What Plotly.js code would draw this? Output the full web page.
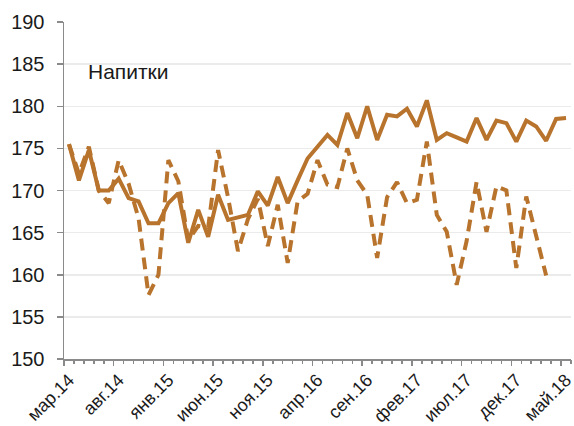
<!DOCTYPE html>
<html><head><meta charset="utf-8">
<script src="https://cdn.plot.ly/plotly-3.0.1.min.js"></script>
<style>html,body{margin:0;padding:0;background:#fff}#chart{width:574px;height:426px}</style>
</head><body><div id="chart"></div>
<script>
const months = ["мар.14","апр.14","май.14","июн.14","июл.14","авг.14","сен.14","окт.14","ноя.14","дек.14",
"янв.15","фев.15","мар.15","апр.15","май.15","июн.15","июл.15","авг.15","сен.15","окт.15","ноя.15","дек.15",
"янв.16","фев.16","мар.16","апр.16","май.16","июн.16","июл.16","авг.16","сен.16","окт.16","ноя.16","дек.16",
"янв.17","фев.17","мар.17","апр.17","май.17","июн.17","июл.17","авг.17","сен.17","окт.17","ноя.17","дек.17",
"янв.18","фев.18","мар.18","апр.18","май.18"];
const tickLabels = ["мар.14","авг.14","янв.15","июн.15","ноя.15","апр.16","сен.16","фев.17","июл.17","дек.17","май.18"];
const solidValues = [175.5,171.2,174.8,170.0,170.0,171.4,169.1,168.7,166.1,166.1,
168.5,169.7,163.8,167.7,164.5,169.5,166.5,166.8,167.1,169.9,168.2,171.6,
168.5,171.2,173.8,175.2,176.6,175.4,179.2,176.2,180.0,176.0,179.0,178.8,
179.7,177.6,180.7,176.0,176.8,176.3,175.8,178.6,176.0,178.3,178.0,175.8,
178.3,177.6,175.9,178.5,178.6];
const dashedValues = [175.5,172.0,175.2,170.0,168.5,173.6,170.8,166.7,157.6,160.0,
173.6,171.1,164.1,165.8,165.6,174.8,169.2,162.8,166.6,169.0,163.4,168.3,
161.4,168.7,169.6,173.6,170.7,170.4,175.0,171.2,169.5,162.0,169.2,171.0,
168.5,168.9,175.8,167.1,165.1,158.8,164.0,171.0,165.1,170.5,170.0,160.8,
169.3,164.6,159.9,null,null];
const seriesColor = "#B8732D";
const idx = months.map((_, i) => i);
const tickIdx = tickLabels.map(t => months.indexOf(t));
const bounds = months.map((_, i) => i - 0.5).concat([months.length - 0.5]);
const majorBounds = bounds.filter((_, i) => i % 5 === 0);
const xr = [-0.5, months.length - 0.5];
const axisGrey = "#8a8a8a";
const font = "Arial, 'Liberation Sans', sans-serif";

const traces = [
  {x: idx, y: solidValues, type: "scatter", mode: "lines", line: {color: seriesColor, width: 4}, hoverinfo: "skip"},
  {x: idx, y: dashedValues, type: "scatter", mode: "lines", connectgaps: false, line: {color: seriesColor, width: 4, dash: "12px,7px"}, hoverinfo: "skip"},
  {x: [], y: [], xaxis: "x2", type: "scatter", hoverinfo: "skip"},
  {x: [], y: [], xaxis: "x3", type: "scatter", hoverinfo: "skip"}
];
const layout = {
  width: 574, height: 426,
  margin: {l: 64, r: 3, t: 22, b: 67},
  paper_bgcolor: "#fff", plot_bgcolor: "#fff",
  showlegend: false,
  font: {family: font, color: "#1a1a1a"},
  xaxis: {range: xr, showgrid: false, zeroline: false, showline: true, linecolor: axisGrey, linewidth: 1.5,
    tickmode: "array", tickvals: tickIdx, ticktext: tickLabels, ticks: "", tickangle: -45,
    ticklabeloverflow: "allow", ticklabelstandoff: 2,
    tickfont: {size: 18, color: "#1a1a1a"}},
  xaxis2: {overlaying: "x", anchor: "y", range: xr, showgrid: false, zeroline: false, showline: false,
    tickmode: "array", tickvals: bounds, ticks: "outside", ticklen: 4, tickwidth: 1.5, tickcolor: axisGrey, showticklabels: false},
  xaxis3: {overlaying: "x", anchor: "y", range: xr, showgrid: false, zeroline: false, showline: false,
    tickmode: "array", tickvals: majorBounds, ticks: "outside", ticklen: 6, tickwidth: 1.5, tickcolor: axisGrey, showticklabels: false},
  yaxis: {range: [150, 190], tick0: 150, dtick: 5, showgrid: true, gridcolor: "#ebebeb", gridwidth: 1.5,
    zeroline: false, showline: true, linecolor: axisGrey, linewidth: 1.5, ticks: "outside", ticklen: 6, tickwidth: 1.5,
    tickcolor: axisGrey, tickfont: {size: 20, color: "#1a1a1a"}, ticklabelstandoff: 8},
  annotations: [{text: "Напитки", xref: "paper", yref: "paper", x: 0.043, y: 0.852, xanchor: "left", yanchor: "middle",
    showarrow: false, font: {size: 21, color: "#1a1a1a"}}]
};
Plotly.newPlot("chart", traces, layout, {staticPlot: true, displayModeBar: false});
</script></body></html>
